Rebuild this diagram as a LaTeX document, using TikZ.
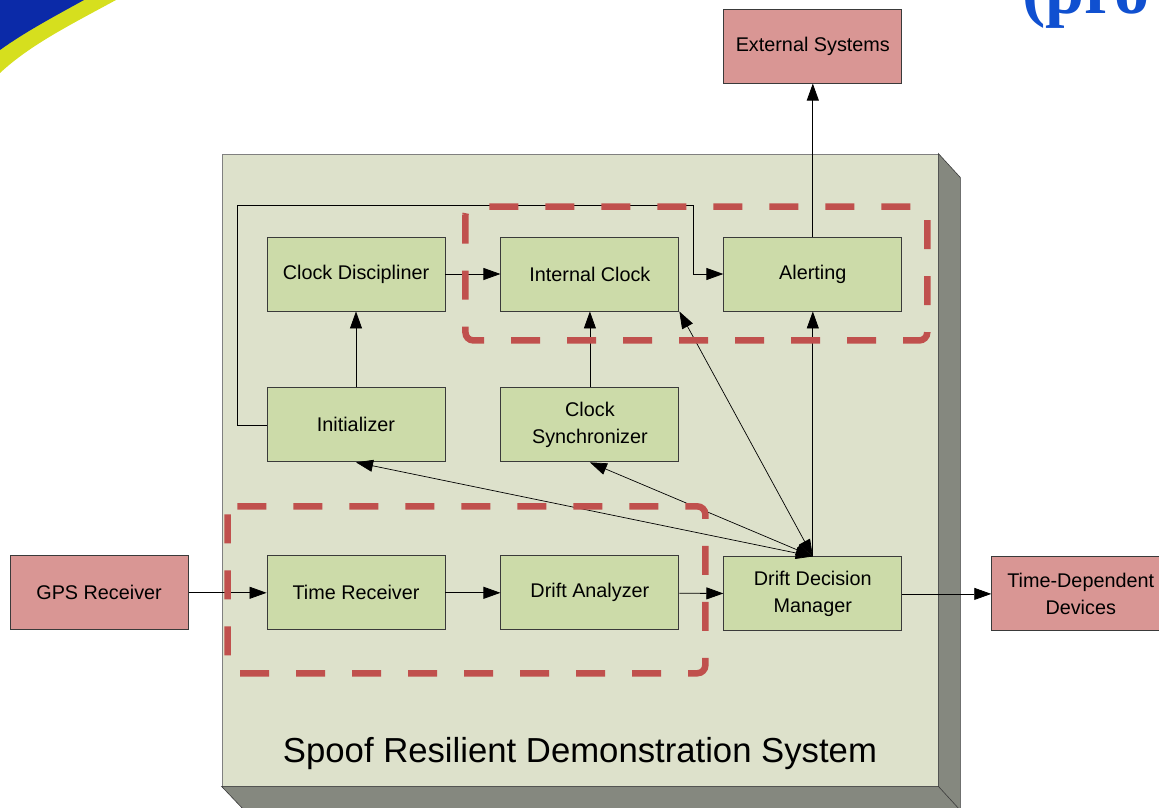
\documentclass[tikz,border=0pt]{standalone}
\usepackage{fontspec}
\setmainfont{Liberation Sans}
\newfontfamily\headserif{Liberation Serif}
\usetikzlibrary{arrows.meta,positioning,calc}
\definecolor{Panel}{HTML}{DDE1CB}
\definecolor{PanelSide}{HTML}{85887F}
\definecolor{Leaf}{HTML}{CCDBA9}
\definecolor{Rose}{HTML}{D99694}
\definecolor{Brick}{HTML}{C0504D}
\definecolor{Edge}{HTML}{3A3A3A}
\definecolor{Royal}{HTML}{0B2AA8}
\definecolor{Lime}{HTML}{D6DF1E}
\definecolor{Heading}{HTML}{1050D0}
\tikzset{
 block/.style={draw=Edge, line width=0.9pt, fill=Leaf, minimum width=178pt, minimum height=74pt, align=center, inner sep=2pt, font=\fontsize{19.8}{26.5}\selectfont},
 extblock/.style={block, fill=Rose},
 arrow/.style={-{Triangle[length=17pt,width=12pt]}, line width=0.8pt, draw=black},
 biarrow/.style={{Triangle[length=17pt,width=12pt]}-{Triangle[length=17pt,width=12pt]}, line width=0.7pt, draw=black},
 groupbox/.style={draw=Brick, line width=6.5pt, dash pattern=on 29pt off 27pt, rounded corners=8pt}
}
\begin{document}
\begin{tikzpicture}[x=1pt,y=-1pt]
\useasboundingbox (0,0) rectangle (1159,808);
\clip (0,0) rectangle (1159,808);
\fill[Lime] (0,0) -- (116,0) .. controls (70,25) and (30,45) .. (0,73) -- cycle;
\fill[Royal] (0,0) -- (84,0) .. controls (55,16) and (25,32) .. (0,50) -- cycle;
\node[anchor=base west, inner sep=0pt, text=Heading, font=\headserif\bfseries\fontsize{70}{70}\selectfont] (heading) at (1022,14) {(pro};
\node[draw=gray, line width=0.8pt, fill=Panel, minimum width=716pt, minimum height=632pt, inner sep=0pt] (panel) at (580,470) {};
\filldraw[fill=PanelSide, draw=Edge, line width=0.6pt] (panel.north east) -- ++(22,24) -- ++(0,660) -- ($(panel.south east)$) -- cycle;
\filldraw[fill=PanelSide, draw=Edge, line width=0.6pt] (panel.south west) -- (panel.south east) -- ++(22,24) -- ++(-716,0) -- cycle;
\node[anchor=base, font=\fontsize{34.7}{40}\selectfont] (title) at (580,762) {Spoof Resilient Demonstration System};
\node[block] (clkdisc) at (356,274) {Clock Discipliner};
\node[block,right=55pt of clkdisc] (intclk) {Internal Clock};
\node[block,right=44pt of intclk] (alert) {Alerting};
\node[block,below=76pt of clkdisc] (init) {Initializer};
\node[block,below=76pt of intclk] (clksync) {Clock\\Synchronizer};
\node[block,below=93pt of init] (timerx) {Time Receiver};
\node[block,below=93pt of clksync] (drift) {Drift Analyzer};
\node[block,below=245pt of alert] (ddm) {Drift Decision\\Manager};
\node[extblock,above=153pt of alert] (ext) {External Systems};
\node[extblock,left=78pt of timerx] (gps) {GPS Receiver};
\node[extblock,right=89pt of ddm] (tdd) {Time-Dependent\\Devices};
\coordinate (loopturn) at ($(alert.west)+(-30,-69)$);
\draw[arrow] (gps) -- (timerx);
\draw[arrow] (timerx) -- (drift);
\draw[arrow] (drift) -- (ddm);
\draw[arrow] (ddm) -- (tdd);
\draw[arrow] (ddm) -- (alert);
\draw[arrow] (alert) -- (ext);
\draw[arrow] (init) -- (clkdisc);
\draw[arrow] (clkdisc) -- (intclk);
\draw[arrow] (clksync) -- (intclk);
\draw[arrow] (init.west) -- ++(-29,0) |- (loopturn) |- (alert.west);
\draw[biarrow] (ddm.north) -- (intclk.south east);
\draw[biarrow] (ddm.north) -- (clksync.south);
\draw[biarrow] (ddm.north) -- (init.south);
\draw[groupbox] ($(intclk.north west)+(-35,-30)$) rectangle ($(alert.south east)+(25,29)$);
\draw[groupbox] ($(timerx.north west)+(-39,-49)$) rectangle ($(drift.south east)+(26,43)$);
\end{tikzpicture}
\end{document}
